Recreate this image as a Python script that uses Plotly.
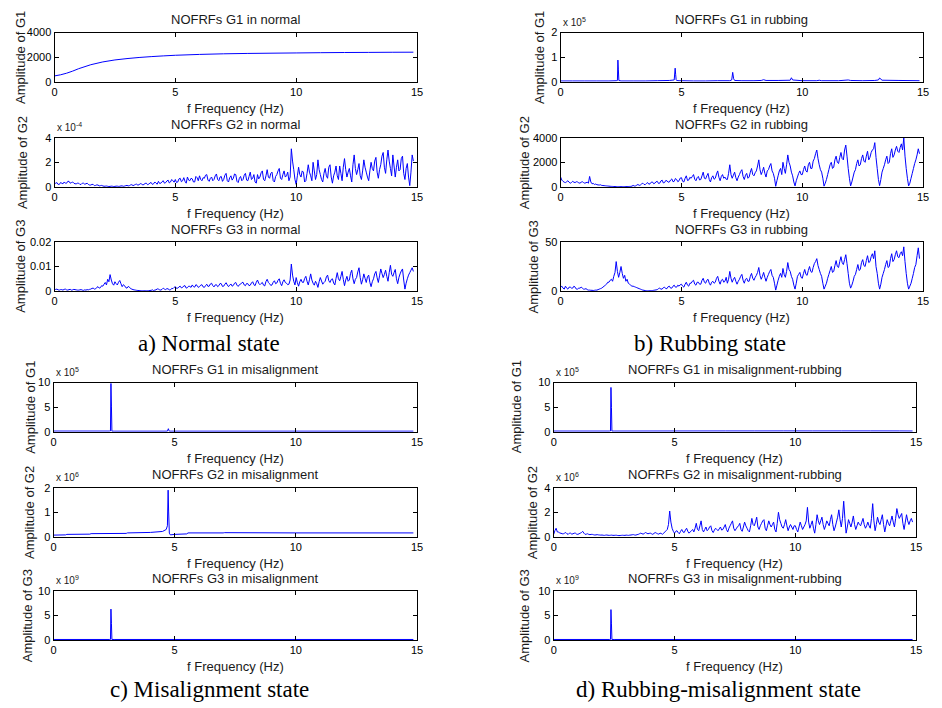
import plotly.graph_objects as go

# ---------------------------------------------------------------------------
# Dense spectra are sampled every 0.05 Hz from 0 to 14.85 Hz
# ---------------------------------------------------------------------------
F_STEP = 0.05

# Normal state
normal_g1_f = [0, 0.25, 0.5, 0.75, 1.0, 1.5, 2.0, 2.5, 3.0, 3.5, 4.0, 4.5, 5.0,
               6.0, 7.0, 8.0, 9.0, 10.0, 11.0, 12.0, 13.0, 14.0, 14.85]
normal_g1 = [470, 560, 690, 860, 1060, 1380, 1610, 1770, 1880, 1970, 2040, 2100, 2150,
             2220, 2270, 2300, 2320, 2340, 2360, 2375, 2385, 2395, 2400]

normal_g2 = [  # x 1e-4, one row per Hz
    0.25, 0.3, 0.35, 0.2, 0.2, 0.35, 0.3, 0.25, 0.4, 0.3, 0.3, 0.45, 0.45, 0.3, 0.35, 0.4, 0.3, 0.25, 0.25, 0.3,
    0.3, 0.2, 0.2, 0.3, 0.3, 0.22, 0.25, 0.3, 0.2, 0.15, 0.15, 0.2, 0.2, 0.1, 0.12, 0.16, 0.15, 0.08, 0.1, 0.12,
    0.08, 0.05, 0.06, 0.07, 0.05, 0.03, 0.04, 0.06, 0.05, 0.03, 0.04, 0.06, 0.06, 0.04, 0.05, 0.08, 0.08, 0.05, 0.07, 0.1,
    0.12, 0.08, 0.1, 0.16, 0.18, 0.1, 0.15, 0.2, 0.22, 0.14, 0.18, 0.26, 0.25, 0.15, 0.2, 0.28, 0.3, 0.18, 0.22, 0.32,
    0.35, 0.2, 0.25, 0.4, 0.3, 0.22, 0.45, 0.28, 0.3, 0.42, 0.5, 0.3, 0.35, 0.48, 0.55, 0.32, 0.4, 0.6, 0.5, 0.38,
    0.6, 0.35, 0.4, 0.65, 0.7, 0.42, 0.5, 0.75, 0.45, 0.3, 0.8, 0.55, 0.5, 0.7, 0.65, 0.4, 0.4, 0.85, 0.75, 0.5,
    0.9, 0.6, 0.5, 0.75, 0.7, 0.95, 1.0, 0.55, 0.45, 0.7, 0.8, 0.5, 0.6, 0.9, 1.05, 0.6, 0.5, 0.8, 0.85, 0.45,
    0.6, 0.95, 1.1, 0.5, 0.4, 0.75, 0.9, 0.55, 0.7, 1.05, 1.0, 0.45, 0.35, 0.7, 0.85, 0.5, 0.6, 0.95, 1.1, 0.55,
    0.5, 0.85, 1.2, 0.6, 0.7, 1.0, 0.4, 0.3, 1.0, 0.65, 0.8, 1.15, 1.3, 0.6, 0.5, 0.9, 1.4, 0.8, 0.7, 1.1,
    1.2, 0.5, 0.4, 0.85, 1.0, 1.3, 1.5, 0.7, 0.6, 1.0, 1.3, 0.8, 0.9, 1.2, 0.5, 0.8, 3.1, 2.1, 1.4, 0.6,
    0.2, 0.9, 1.6, 1.0, 0.8, 1.3, 1.2, 0.4, 0.5, 1.1, 1.8, 1.2, 0.9, 0.5, 2.0, 1.3, 0.6, 1.0, 2.2, 1.4,
    1.0, 0.6, 0.4, 1.1, 1.5, 0.9, 0.7, 1.6, 1.8, 0.8, 0.3, 0.9, 1.2, 1.7, 0.9, 0.6, 1.7, 1.1, 0.5, 1.6,
    2.3, 1.4, 0.8, 1.2, 1.5, 0.9, 0.4, 1.8, 2.6, 1.5, 1.0, 1.4, 1.9, 0.9, 0.6, 1.3, 2.2, 1.6, 1.2, 0.8,
    0.5, 1.3, 2.0, 1.5, 1.3, 2.1, 2.4, 1.2, 0.7, 1.4, 1.8, 2.5, 2.8, 1.6, 1.1, 2.2, 3.0, 2.1, 1.5, 0.9,
    2.6, 1.7, 0.8, 1.6, 2.2, 1.3, 1.4, 2.3, 2.5, 1.1, 0.6, 1.5, 1.9, 0.8, 0.1, 1.2, 2.6, 2.1,
]

normal_g3 = [  # x 1e-3
    0.5, 0.7, 0.8, 0.5, 0.4, 0.6, 0.6, 0.4, 0.7, 0.8, 0.5, 0.4, 0.6, 0.7, 0.4, 0.5, 0.7, 0.6, 0.5, 0.4,
    0.4, 0.5, 0.6, 0.4, 0.3, 0.5, 0.4, 0.6, 0.5, 0.7, 0.8, 1.1, 1.2, 0.8, 0.9, 1.5, 1.8, 1.2, 1.4, 2.2,
    2.0, 2.8, 3.5, 2.5, 4.8, 3.8, 6.7, 4.5, 3.0, 2.4, 3.8, 3.0, 2.5, 3.6, 4.3, 3.0, 1.8, 2.6, 2.2, 1.4,
    1.2, 1.9, 1.6, 1.0, 0.8, 0.6, 0.5, 0.4, 0.3, 0.25, 0.2, 0.2, 0.15, 0.12, 0.1, 0.12, 0.12, 0.15, 0.15, 0.25,
    0.3, 0.5, 0.2, 0.4, 0.5, 0.9, 0.8, 0.5, 0.4, 0.7, 1.2, 0.8, 0.6, 1.0, 0.9, 0.5, 0.5, 1.1, 1.0, 1.5,
    1.8, 1.1, 1.2, 1.7, 2.0, 1.3, 1.5, 2.1, 2.2, 1.2, 1.4, 2.0, 1.9, 1.5, 2.5, 1.8, 1.6, 2.6, 2.3, 1.5,
    1.8, 2.4, 2.6, 1.7, 1.5, 2.2, 2.8, 1.9, 2.0, 2.9, 3.2, 2.2, 1.7, 2.5, 2.6, 1.8, 2.2, 3.1, 3.0, 1.9,
    2.0, 2.8, 3.4, 2.5, 1.8, 2.4, 2.9, 2.0, 2.3, 3.2, 3.5, 2.4, 1.9, 2.6, 2.8, 3.4, 3.6, 2.5, 2.2, 3.1,
    3.0, 2.2, 2.4, 3.3, 3.8, 2.6, 2.2, 3.6, 4.5, 3.2, 2.6, 3.1, 3.5, 2.4, 2.1, 3.9, 4.8, 3.5, 3.0, 2.3,
    2.5, 3.6, 4.2, 3.0, 3.3, 4.4, 5.0, 3.1, 2.2, 3.8, 4.6, 3.5, 3.2, 2.6, 2.8, 4.5, 11.0, 6.5, 4.0, 2.5,
    5.5, 3.4, 2.0, 3.8, 4.8, 3.6, 3.5, 5.1, 6.0, 4.0, 2.5, 4.6, 7.0, 4.5, 3.2, 2.4, 4.0, 3.0, 1.5, 3.8,
    5.5, 4.1, 2.8, 3.5, 4.0, 5.8, 6.5, 4.2, 3.5, 4.7, 5.0, 3.3, 2.5, 5.2, 7.5, 5.0, 4.2, 6.0, 8.0, 4.8,
    2.2, 4.5, 6.0, 4.0, 4.5, 7.2, 8.5, 5.0, 3.0, 4.8, 5.5, 7.8, 9.5, 5.5, 2.8, 4.6, 7.0, 5.2, 3.5, 5.8,
    6.5, 3.5, 1.8, 3.8, 5.0, 7.0, 8.0, 5.4, 3.5, 6.2, 9.0, 7.2, 5.5, 6.8, 8.5, 6.0, 4.0, 7.5, 10.5, 6.8,
    6.0, 7.5, 8.8, 5.0, 3.0, 5.5, 7.0, 8.2, 9.0, 4.5, 0.8, 3.2, 5.0, 6.5, 7.5, 8.5, 9.5, 8.0,
]

# Rubbing state
rub_g1_f = [0, 0.5, 1.0, 1.5, 2.0, 2.3, 2.35, 2.37, 2.39, 2.41, 2.5, 3.0, 3.5, 4.0,
            4.5, 4.7, 4.74, 4.76, 4.78, 4.80, 4.9, 5.0, 5.5, 6.0, 6.5, 7.0, 7.08,
            7.12, 7.16, 7.2, 7.5, 8.0, 8.3, 8.4, 8.5, 9.0, 9.5, 9.55, 9.6, 10.0,
            10.6, 10.7, 10.8, 11.5, 11.9, 12.0, 12.5, 13.0, 13.15, 13.2, 13.3,
            14.0, 14.85]
rub_g1 = [0.03, 0.03, 0.03, 0.03, 0.03, 0.04, 0.05, 0.88, 0.48, 0.05, 0.03, 0.03,
          0.03, 0.04, 0.05, 0.07, 0.55, 0.3, 0.08, 0.05, 0.04, 0.04, 0.03, 0.03,
          0.04, 0.04, 0.07, 0.38, 0.12, 0.05, 0.04, 0.04, 0.05, 0.08, 0.05, 0.05,
          0.06, 0.16, 0.07, 0.04, 0.04, 0.06, 0.04, 0.04, 0.07, 0.05, 0.04, 0.05,
          0.07, 0.15, 0.06, 0.05, 0.04]  # x 1e5

rub_g2 = [
    800, 550, 450, 380, 350, 420, 500, 380, 300, 360, 450, 380, 350, 420, 400, 330, 300, 380, 420, 350,
    300, 340, 380, 300, 850, 400, 250, 280, 200, 230, 180, 160, 150, 170, 120, 110, 100, 90, 80, 70,
    60, 50, 40, 35, 30, 25, 20, 18, 20, 15, 15, 18, 20, 22, 25, 20, 30, 35, 40, 60,
    120, 70, 80, 140, 200, 120, 150, 240, 300, 200, 180, 280, 350, 220, 250, 380, 400, 260, 300, 420,
    450, 280, 300, 480, 550, 320, 350, 520, 500, 380, 400, 560, 650, 420, 450, 680, 600, 420, 500, 720,
    750, 450, 400, 700, 900, 520, 550, 780, 700, 850, 1000, 620, 500, 750, 850, 560, 600, 900, 1200, 700,
    650, 900, 1100, 600, 400, 750, 900, 620, 700, 1050, 1300, 780, 500, 850, 1000, 700, 800, 620, 600, 1100,
    1800, 1000, 700, 950, 1200, 750, 500, 800, 1000, 1250, 1400, 850, 600, 950, 1100, 700, 800, 1200, 1500, 1000,
    900, 1150, 1300, 1700, 2200, 1400, 1000, 1250, 1600, 1100, 800, 1300, 1400, 1700, 1900, 1300, 1100, 700, 50, 500,
    900, 1300, 1500, 1000, 2000, 1500, 1100, 1800, 2600, 2000, 1700, 1200, 900, 400, 80, 500, 800, 1100, 1300, 1000,
    1000, 1400, 1700, 1300, 1200, 1800, 2000, 1500, 1500, 2100, 2300, 2700, 3000, 2300, 1800, 1400, 1200, 700, 60, 300,
    600, 1000, 1400, 1800, 2000, 1500, 1600, 2200, 2500, 2000, 1900, 2400, 2800, 2300, 2200, 3000, 3400, 2500, 1500, 700,
    80, 400, 800, 1200, 1400, 1900, 2200, 1700, 1800, 2300, 2600, 2100, 2000, 2500, 2900, 2200, 2400, 2800, 3000, 3100,
    3600, 2400, 1500, 600, 100, 600, 1200, 1500, 1800, 2200, 2500, 1900, 2000, 2700, 3100, 2400, 2600, 3000, 3300, 2900,
    2800, 3200, 3500, 3000, 4000, 2500, 1500, 700, 80, 300, 700, 1100, 1500, 1900, 2200, 2600, 3100, 2700,
]

rub_g3 = [
    4, 5, 3, 2, 5, 3, 2, 4, 4, 3, 3, 5, 4, 2, 2, 3, 3, 4, 3, 2,
    2, 2.5, 1.5, 1, 1, 0.8, 0.8, 0.6, 0.8, 1, 1, 1.5, 2, 2.5, 3, 4, 5, 6, 7, 9,
    9, 11, 12, 10, 15, 19, 30, 20, 14, 19, 25, 18, 13, 16, 10, 12, 8, 7, 6, 5,
    5, 4.5, 4, 3.5, 3, 2.5, 2, 1.5, 1, 0.8, 0.5, 0.4, 0.3, 0.3, 0.3, 0.4, 0.5, 0.8, 1, 1.2,
    1.5, 2.5, 3, 2, 2, 3.5, 4, 2.5, 2.5, 4.5, 5, 3, 3, 5, 6, 4, 4, 6, 5, 6.5,
    7, 5, 4, 7, 9, 6, 5, 8, 8, 10, 11, 7, 6, 9, 9, 7, 7, 11, 13, 9,
    8, 11, 12, 8, 6, 9, 10, 8, 9, 13, 15, 10, 7, 11, 12, 9, 10, 14, 8, 12,
    20, 13, 9, 12, 14, 10, 7, 10, 12, 15, 17, 11, 8, 12, 13, 10, 10, 15, 18, 13,
    11, 14, 16, 19, 24, 16, 12, 15, 19, 14, 10, 14, 17, 20, 22, 16, 14, 8, 1, 6,
    11, 15, 18, 14, 23, 17, 14, 20, 29, 22, 20, 15, 12, 6, 2, 8, 15, 17, 19, 14,
    13, 18, 22, 17, 16, 21, 25, 20, 19, 24, 28, 30, 33, 26, 22, 18, 15, 8, 2, 5,
    8, 13, 17, 21, 25, 19, 20, 26, 31, 25, 24, 30, 35, 29, 27, 32, 37, 28, 18, 8,
    3, 6, 10, 15, 17, 22, 27, 21, 22, 29, 32, 26, 25, 31, 36, 29, 30, 35, 38, 33,
    41, 25, 18, 8, 2, 7, 14, 18, 22, 27, 31, 24, 25, 33, 38, 30, 32, 37, 41, 35,
    34, 38, 40, 36, 45, 30, 18, 8, 2, 5, 8, 13, 18, 24, 27, 36, 44, 33,
]

# Misalignment state
mis_g1_f = [0, 2.3, 2.35, 2.37, 2.39, 2.41, 2.5, 4.7, 4.74, 4.76, 4.78, 4.85, 14.85]
mis_g1 = [0.12, 0.12, 0.15, 9.8, 5.2, 0.1, 0.1, 0.1, 0.6, 0.3, 0.1, 0.1, 0.1]  # x 1e5

mis_g2_f = [0, 0.5, 0.55, 1.5, 1.55, 3.0, 3.05, 4.0, 4.5, 4.65, 4.70, 4.73, 4.75,
            4.78, 4.82, 5.0, 5.5, 5.55, 7.0, 7.05, 10.0, 14.85]
mis_g2 = [0.07, 0.08, 0.1, 0.11, 0.13, 0.14, 0.16, 0.18, 0.22, 0.3, 0.45, 1.9, 1.05,
          0.15, 0.08, 0.1, 0.12, 0.16, 0.16, 0.17, 0.16, 0.16]  # x 1e6

mis_g3_f = [0, 2.3, 2.35, 2.37, 2.39, 2.41, 2.5, 14.85]
mis_g3 = [0.12, 0.12, 0.13, 6.3, 3.4, 0.12, 0.12, 0.12]  # x 1e9

# Rubbing-misalignment state
mr_g1_f = [0, 2.3, 2.35, 2.37, 2.39, 2.41, 2.5, 7.1, 8.3, 9.5, 10.7, 11.9, 13.1, 14.3, 14.85]
mr_g1 = [0.12, 0.12, 0.14, 9.0, 4.9, 0.12, 0.12, 0.14, 0.14, 0.15, 0.14, 0.15, 0.15, 0.14, 0.13]  # x 1e5

mr_g2 = [  # x 1e6
    0.2, 0.5, 0.7, 0.4, 0.4, 0.3, 0.3, 0.25, 0.25, 0.3, 0.35, 0.25, 0.2, 0.3, 0.3, 0.22, 0.25, 0.3, 0.3, 0.22,
    0.2, 0.25, 0.3, 0.35, 0.45, 0.3, 0.2, 0.22, 0.25, 0.2, 0.18, 0.2, 0.2, 0.17, 0.15, 0.16, 0.18, 0.16, 0.15, 0.14,
    0.15, 0.13, 0.12, 0.14, 0.15, 0.13, 0.12, 0.13, 0.14, 0.12, 0.12, 0.13, 0.13, 0.11, 0.1, 0.11, 0.12, 0.13, 0.12, 0.12,
    0.14, 0.13, 0.12, 0.14, 0.15, 0.17, 0.18, 0.15, 0.14, 0.18, 0.2, 0.25, 0.3, 0.26, 0.22, 0.28, 0.35, 0.3, 0.25, 0.28,
    0.3, 0.25, 0.2, 0.28, 0.35, 0.3, 0.25, 0.22, 0.3, 0.28, 0.2, 0.3, 0.4, 0.5, 0.6, 1.0, 2.1, 1.2, 0.7, 0.45,
    0.3, 0.45, 0.5, 0.35, 0.25, 0.45, 0.6, 0.4, 0.35, 0.55, 0.7, 0.45, 0.3, 0.4, 0.5, 0.6, 0.4, 0.7, 1.1, 0.6,
    0.5, 0.9, 1.3, 0.6, 0.4, 0.6, 0.8, 0.5, 0.6, 0.8, 0.9, 0.5, 0.35, 0.55, 0.7, 0.6, 0.5, 0.65, 0.8, 0.55,
    0.6, 0.8, 1.0, 0.6, 0.4, 0.7, 0.9, 1.1, 1.3, 0.7, 0.5, 0.65, 0.8, 0.9, 1.1, 0.6, 0.45, 0.8, 1.2, 0.9,
    0.7, 0.5, 0.4, 0.9, 1.5, 1.0, 0.9, 1.2, 1.6, 0.8, 0.6, 0.9, 1.1, 1.3, 1.4, 0.7, 0.5, 0.9, 1.3, 1.0,
    0.8, 1.0, 1.2, 0.6, 0.4, 1.1, 2.0, 1.4, 1.1, 0.8, 0.7, 1.0, 1.4, 0.9, 0.5, 0.8, 1.0, 0.8, 0.6, 0.9,
    0.9, 0.6, 0.4, 0.8, 1.2, 0.9, 0.6, 0.8, 1.0, 1.3, 2.4, 1.2, 0.7, 1.0, 1.3, 0.7, 0.3, 1.0, 1.8, 1.3,
    1.0, 1.3, 1.6, 1.0, 0.6, 0.9, 1.3, 1.1, 0.9, 1.4, 1.8, 1.0, 0.5, 0.8, 1.2, 1.6, 2.2, 1.4, 0.8, 1.5,
    2.9, 1.5, 0.3, 0.8, 1.4, 1.1, 0.8, 1.2, 1.7, 1.0, 0.6, 0.9, 1.2, 1.0, 0.9, 1.2, 1.5, 1.0, 0.7, 0.9,
    1.2, 0.9, 0.7, 1.5, 2.7, 1.3, 0.5, 1.0, 1.6, 1.2, 1.0, 1.4, 1.8, 1.0, 0.4, 0.9, 1.4, 1.1, 0.9, 1.3,
    1.7, 1.2, 0.8, 1.5, 2.3, 1.8, 1.5, 1.7, 1.9, 1.1, 0.6, 1.2, 1.8, 1.3, 1.0, 1.3, 1.5, 1.2,
]

mr_g3_f = [0, 2.3, 2.35, 2.37, 2.39, 2.41, 2.5, 14.85]
mr_g3 = [0.12, 0.12, 0.13, 6.2, 3.3, 0.12, 0.12, 0.12]  # x 1e9

X_TICKS = [0, 5, 10, 15]
X_TICK_TEXT = ["0", "5", "10", "15"]


def grid(values):
    return [round(i * F_STEP, 2) for i in range(len(values))]


def scaled(values, factor):
    return [v * factor for v in values]


W, H = 942, 708


def px_x(p):
    return p / W


def px_y(p):
    return 1 - p / H


# Column / row placement (pixels)
COL_A, COL_B, COL_C, COL_D = (52, 418), (563, 929), (51, 418), (556, 922)
ROWS_TOP = [(27, 77), (134, 184), (240, 290)]
ROWS_BOT = [(383, 433), (490, 540), (595, 645)]

# (title, ylabel, x, y, ymax, tick texts, exponent label, column, row, ylabel x-centre)
panels = [
    ("NOFRFs G1 in normal", "Amplitude of G1", normal_g1_f, normal_g1, 4000,
     ["0", "2000", "4000"], None, COL_A, ROWS_TOP[0], 17),
    ("NOFRFs G2 in normal", "Amplitude of G2", grid(normal_g2), scaled(normal_g2, 1e-4), 4e-4,
     ["0", "2", "4"], "x 10<sup>-4</sup>", COL_A, ROWS_TOP[1], 19),
    ("NOFRFs G3 in normal", "Amplitude of G3", grid(normal_g3), scaled(normal_g3, 1e-3), 0.02,
     ["0", "0.01", "0.02"], None, COL_A, ROWS_TOP[2], 17.5),
    ("NOFRFs G1 in rubbing", "Amplitude of G1", rub_g1_f, scaled(rub_g1, 1e5), 2e5,
     ["0", "1", "2"], "x 10<sup>5</sup>", COL_B, ROWS_TOP[0], 541),
    ("NOFRFs G2 in rubbing", "Amplitude of G2", grid(rub_g2), rub_g2, 4000,
     ["0", "2000", "4000"], None, COL_B, ROWS_TOP[1], 526),
    ("NOFRFs G3 in rubbing", "Amplitude of G3", grid(rub_g3), rub_g3, 50,
     ["0", "50"], None, COL_B, ROWS_TOP[2], 536),
    ("NOFRFs G1 in misalignment", "Amplitude of G1", mis_g1_f, scaled(mis_g1, 1e5), 1e6,
     ["0", "5", "10"], "x 10<sup>5</sup>", COL_C, ROWS_BOT[0], 27),
    ("NOFRFs G2 in misalignment", "Amplitude of G2", mis_g2_f, scaled(mis_g2, 1e6), 2e6,
     ["0", "1", "2"], "x 10<sup>6</sup>", COL_C, ROWS_BOT[1], 27),
    ("NOFRFs G3 in misalignment", "Amplitude of G3", mis_g3_f, scaled(mis_g3, 1e9), 1e10,
     ["0", "5", "10"], "x 10<sup>9</sup>", COL_C, ROWS_BOT[2], 25),
    ("NOFRFs G1 in misalignment-rubbing", "Amplitude of G1", mr_g1_f, scaled(mr_g1, 1e5), 1e6,
     ["0", "5", "10"], "x 10<sup>5</sup>", COL_D, ROWS_BOT[0], 518),
    ("NOFRFs G2 in misalignment-rubbing", "Amplitude of G2", grid(mr_g2), scaled(mr_g2, 1e6), 4e6,
     ["0", "2", "4"], "x 10<sup>6</sup>", COL_D, ROWS_BOT[1], 534),
    ("NOFRFs G3 in misalignment-rubbing", "Amplitude of G3", mr_g3_f, scaled(mr_g3, 1e9), 1e10,
     ["0", "5", "10"], "x 10<sup>9</sup>", COL_D, ROWS_BOT[2], 527),
]

captions = [
    ("a) Normal state", 208, 343),
    ("b) Rubbing state", 714, 343),
    ("c) Misalignment state", 208, 695),
    ("d) Rubbing-misalignment state", 722, 695),
]

SANS = "Liberation Sans, Arial, sans-serif"
SERIF = "Liberation Serif, Times New Roman, serif"
LINE_BLUE = "#0000ff"

fig = go.Figure()
layout = dict(
    width=W, height=H, margin=dict(l=0, r=0, t=0, b=0),
    paper_bgcolor="white", plot_bgcolor="white", showlegend=False,
    font=dict(family=SANS, size=11, color="#000"),
)
annotations = []

axis_style = dict(
    ticks="inside", ticklen=4, tickwidth=1, tickcolor="#000",
    mirror="allticks", showline=True, linecolor="#000", linewidth=1,
    showgrid=False, zeroline=False, tickfont=dict(family=SANS, size=11, color="#000"),
)

for i, (title, ylab, xs, ys, ymax, ytxt, expo, col, row, ylab_x) in enumerate(panels, start=1):
    xa, ya = f"x{i}", f"y{i}"
    fig.add_trace(go.Scatter(
        x=xs, y=ys, mode="lines", xaxis=xa, yaxis=ya,
        line=dict(color=LINE_BLUE, width=1, simplify=False), hoverinfo="skip",
    ))
    yvals = [0, ymax / 2, ymax] if len(ytxt) == 3 else [0, ymax]
    layout[f"xaxis{i}"] = dict(
        domain=[px_x(col[0]), px_x(col[1])], range=[0, 15], anchor=ya,
        tickvals=X_TICKS, ticktext=X_TICK_TEXT, **axis_style,
    )
    layout[f"yaxis{i}"] = dict(
        domain=[px_y(row[1]), px_y(row[0])], range=[0, ymax], anchor=xa,
        tickvals=yvals, ticktext=ytxt, **axis_style,
    )
    cx = (col[0] + col[1]) / 2
    # panel title
    annotations.append(dict(
        text=title, x=px_x(cx), y=px_y(row[0] - 13), xref="paper", yref="paper",
        showarrow=False, xanchor="center", yanchor="middle",
        font=dict(family=SANS, size=13, color="#1a1a1a"),
    ))
    # x-axis title
    annotations.append(dict(
        text="f Frequency (Hz)", x=px_x(cx), y=px_y(row[1] + 27), xref="paper", yref="paper",
        showarrow=False, xanchor="center", yanchor="middle",
        font=dict(family=SANS, size=13, color="#1a1a1a"),
    ))
    # y-axis title
    annotations.append(dict(
        text=ylab, x=px_x(ylab_x), y=px_y((row[0] + row[1]) / 2), xref="paper", yref="paper",
        showarrow=False, xanchor="center", yanchor="middle", textangle=-90,
        font=dict(family=SANS, size=13, color="#1a1a1a"),
    ))
    # exponent label above the y axis
    if expo:
        annotations.append(dict(
            text=expo, x=px_x(col[0]), y=px_y(row[0] - 3), xref="paper", yref="paper",
            showarrow=False, xanchor="left", yanchor="bottom",
            font=dict(family=SANS, size=10, color="#1a1a1a"),
        ))

for text, cx, cy in captions:
    annotations.append(dict(
        text=text, x=px_x(cx), y=px_y(cy), xref="paper", yref="paper",
        showarrow=False, xanchor="center", yanchor="middle",
        font=dict(family=SERIF, size=23, color="#000"),
    ))

layout["annotations"] = annotations
fig.update_layout(**layout)
fig.write_html("out.html")
